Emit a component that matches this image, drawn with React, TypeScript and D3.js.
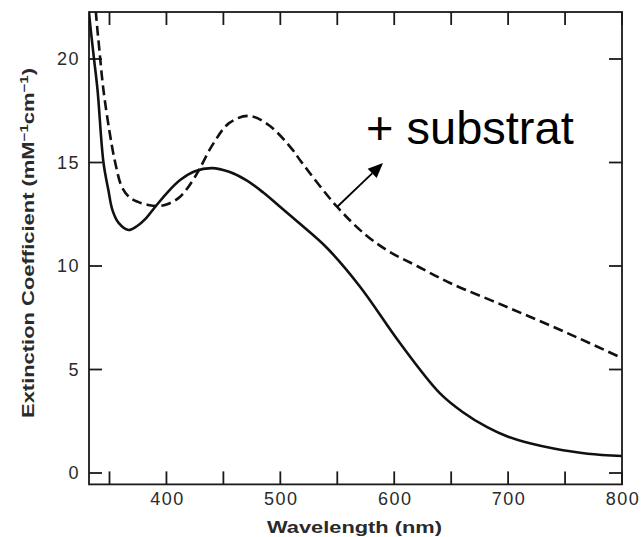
import React from "react";
import * as d3 from "d3";

const solidWavelength = [329, 332, 336, 339.5, 344.7, 349, 352.6, 358, 366.6, 374, 382, 390, 400, 412, 425, 440, 455, 470, 485, 500, 517, 541, 570, 605, 640, 660, 682, 700, 720, 740, 770, 800];
const solidExt = [25.0, 22.27, 20.2, 18.5, 15.0, 13.67, 12.7, 12.08, 11.74, 11.92, 12.3, 12.85, 13.5, 14.15, 14.58, 14.73, 14.55, 14.15, 13.55, 12.85, 12.05, 10.87, 9.0, 6.28, 3.86, 2.95, 2.2, 1.75, 1.42, 1.18, 0.93, 0.82];

const dashedWavelength = [335, 338, 341, 344.7, 350, 355, 361, 368, 375, 384, 392, 400, 412, 425, 441, 455, 472, 490, 511, 517.5, 550, 575, 596, 620, 649, 699, 752, 800];
const dashedExt = [24.5, 22.27, 20.5, 18.5, 16.5, 15.0, 13.8, 13.3, 13.1, 12.95, 12.9, 12.97, 13.35, 14.3, 15.9, 16.9, 17.25, 16.8, 15.6, 15.1, 12.85, 11.5, 10.68, 10.0, 9.18, 8.02, 6.76, 5.55];

const xMinorTicks = [350, 400, 450, 500, 550, 600, 650, 700, 750, 800];
const xTickLabels = [400, 500, 600, 700, 800];
const yTicks = [0, 5, 10, 15, 20];

const xDomain = [332, 800];
const yTop = 22.27;
const yBottom = -0.55;

export default function App() {
  const W = 643;
  const H = 537;
  const x = d3.scaleLinear().domain(xDomain).range([89, 622]);
  const y = d3.scaleLinear().domain([0, 20]).range([473, 59]);
  const left = x(xDomain[0]);
  const right = x(xDomain[1]);
  const top = y(yTop);
  const bottom = y(yBottom);

  const line = d3
    .line<[number, number]>()
    .x((d) => x(d[0]))
    .y((d) => y(d[1]))
    .curve(d3.curveCatmullRom.alpha(0.5));

  const solid = line(solidWavelength.map((w, i) => [w, solidExt[i]] as [number, number])) || "";
  const dashed = line(dashedWavelength.map((w, i) => [w, dashedExt[i]] as [number, number])) || "";

  const tickLen = 13;
  const ink = "#1a1a1a";
  const textInk = "#2a2a2a";

  // annotation arrow
  const ax0 = 337, ay0 = 207, ax1 = 383, ay1 = 163;
  const ang = Math.atan2(ay1 - ay0, ax1 - ax0);
  const headL = 15, headW = 6.5;
  const bx = ax1 - headL * Math.cos(ang);
  const by = ay1 - headL * Math.sin(ang);
  const px = -Math.sin(ang) * headW;
  const py = Math.cos(ang) * headW;

  return (
    <svg
      width={W}
      height={H}
      style={{ position: "absolute", left: 0, top: 0, background: "#fff" }}
    >
      <defs>
        <clipPath id="plotClip">
          <rect x={left} y={top} width={right - left} height={bottom - top} />
        </clipPath>
      </defs>
      <rect x={0} y={0} width={W} height={H} fill="#fff" />

      {/* frame */}
      <rect
        x={left}
        y={top}
        width={right - left}
        height={bottom - top}
        fill="none"
        stroke={ink}
        strokeWidth={1.8}
      />

      {/* y ticks left & right */}
      {yTicks.map((t) => (
        <g key={"y" + t}>
          <line x1={left} x2={left + tickLen} y1={y(t)} y2={y(t)} stroke={ink} strokeWidth={1.8} />
          <line x1={right} x2={right - tickLen} y1={y(t)} y2={y(t)} stroke={ink} strokeWidth={1.8} />
          <text
            x={80}
            y={y(t)}
            dy="0.36em"
            textAnchor="end"
            fontFamily="'Liberation Sans', Arial, sans-serif"
            fontSize={18}
            letterSpacing={1.5}
            fill={textInk}
          >
            {t}
          </text>
        </g>
      ))}

      {/* x ticks bottom & top */}
      {xMinorTicks.map((t) => (
        <g key={"x" + t}>
          <line x1={x(t)} x2={x(t)} y1={bottom} y2={bottom - tickLen} stroke={ink} strokeWidth={1.8} />
          <line x1={x(t)} x2={x(t)} y1={top} y2={top + tickLen} stroke={ink} strokeWidth={1.8} />
        </g>
      ))}
      {xTickLabels.map((t) => (
        <text
          key={"xl" + t}
          x={x(t) + 1}
          y={505}
          textAnchor="middle"
          fontFamily="'Liberation Sans', Arial, sans-serif"
          fontSize={18}
          letterSpacing={1.5}
          fill={textInk}
        >
          {t}
        </text>
      ))}

      {/* axis titles */}
      <text
        x={267}
        y={533}
        textLength={175}
        lengthAdjust="spacingAndGlyphs"
        fontFamily="'Liberation Sans', Arial, sans-serif"
        fontSize={17}
        fontWeight="bold"
        fill={textInk}
      >
        Wavelength (nm)
      </text>
      <text
        transform={`translate(34, 418) rotate(-90)`}
        textLength={350}
        lengthAdjust="spacingAndGlyphs"
        fontFamily="'Liberation Sans', Arial, sans-serif"
        fontSize={16}
        fontWeight="bold"
        fill={textInk}
      >
        Extinction Coefficient (mM
        <tspan dy={-6} fontSize={11}>−1</tspan>
        <tspan dy={6}>cm</tspan>
        <tspan dy={-6} fontSize={11}>−1</tspan>
        <tspan dy={6}>)</tspan>
      </text>

      {/* curves */}
      <g clipPath="url(#plotClip)">
        <path d={solid} fill="none" stroke="#111" strokeWidth={2.6} strokeLinejoin="round" />
        <path
          d={dashed}
          fill="none"
          stroke="#111"
          strokeWidth={2.6}
          strokeDasharray="10 5"
        />
      </g>

      {/* annotation */}
      <line x1={ax0} y1={ay0} x2={bx} y2={by} stroke="#000" strokeWidth={1.8} />
      <polygon
        points={`${ax1},${ay1} ${bx + px},${by + py} ${bx - px},${by - py}`}
        fill="#000"
      />
      <text
        x={366}
        y={144}
        fontFamily="'Liberation Sans', Arial, sans-serif"
        fontSize={47}
        fill="#000"
      >
        + substrat
      </text>
    </svg>
  );
}
